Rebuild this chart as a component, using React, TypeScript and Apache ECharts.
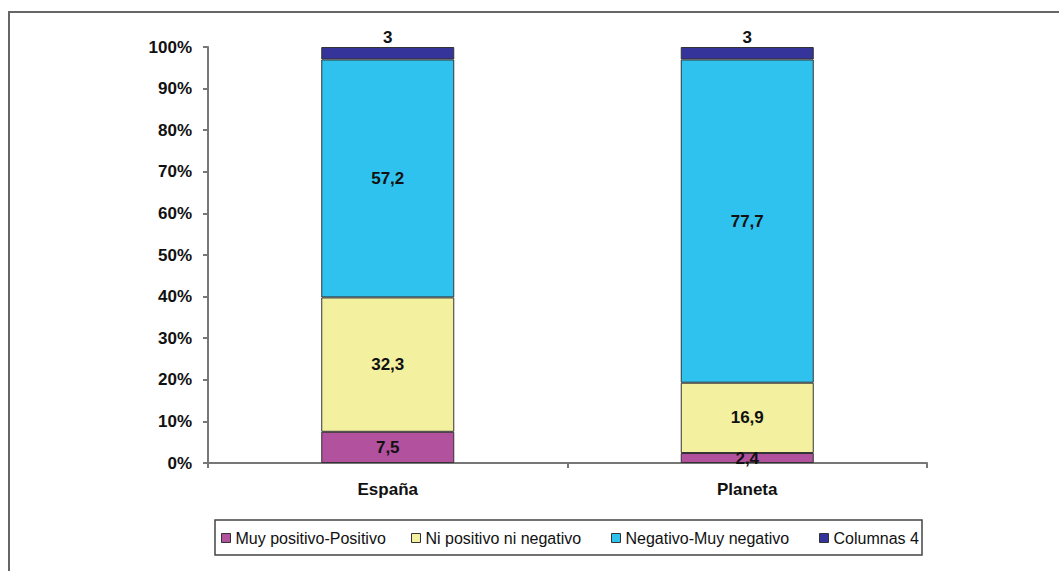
import React, { useEffect, useRef } from "react";
import * as echarts from "echarts";

const categories = ["España", "Planeta"];
const seriesNames = [
  "Muy positivo-Positivo",
  "Ni positivo ni negativo",
  "Negativo-Muy negativo",
  "Columnas 4",
];
const muyPositivo = [7.5, 2.4];
const niPositivo = [32.3, 16.9];
const negativo = [57.2, 77.7];
const columnas4 = [3, 3];
const yTicks = [0, 10, 20, 30, 40, 50, 60, 70, 80, 90, 100];

const colors = ["#b2529f", "#f3f0a0", "#2fc2ee", "#34349b"];
const legendLefts = [221, 411, 611, 819];
const FONT = 'Arial, "Liberation Sans", sans-serif';

export default function App() {
  const ref = useRef<HTMLDivElement>(null);
  useEffect(() => {
    if (!ref.current) return;
    const chart = echarts.init(ref.current, null, { renderer: "svg" });
    const seriesData = [muyPositivo, niPositivo, negativo, columnas4];
    const fmt = (p: any) => String(p.value).replace(".", ",");
    chart.setOption({
      animation: false,
      backgroundColor: "#ffffff",
      textStyle: { fontFamily: FONT },
      grid: { left: 208, right: 132, top: 47, bottom: 108, containLabel: false },
      xAxis: {
        type: "category",
        data: categories,
        axisLine: { lineStyle: { color: "#777", width: 2 } },
        axisTick: { show: true, length: 5, lineStyle: { color: "#777", width: 2 } },
        axisLabel: {
          color: "#111",
          fontWeight: "bold",
          fontSize: 17,
          fontFamily: FONT,
          margin: 18,
        },
      },
      yAxis: {
        type: "value",
        min: 0,
        max: 100,
        interval: 10,
        axisLine: { show: true, lineStyle: { color: "#777", width: 2 } },
        axisTick: { show: true, length: 5, lineStyle: { color: "#777", width: 2 } },
        splitLine: { show: false },
        axisLabel: {
          color: "#111",
          fontWeight: "bold",
          fontSize: 17,
          fontFamily: FONT,
          margin: 16,
          formatter: (v: number) => (yTicks.includes(v) ? v + "%" : ""),
        },
      },
      legend: seriesNames.map((n, i) => ({
        data: [n],
        left: legendLefts[i],
        top: 529,
        padding: 0,
        itemWidth: 9,
        itemHeight: 9,
        icon: "rect",
        itemGap: 5,
        textStyle: { color: "#111", fontSize: 16, fontFamily: FONT, lineHeight: 18 },
        itemStyle: { borderColor: "#333", borderWidth: 1 },
      })),
      graphic: [
        {
          type: "rect",
          shape: { x: 9, y: 12, width: 1100, height: 700 },
          style: { fill: "none", stroke: "#666", lineWidth: 2 },
          silent: true,
        },
        {
          type: "rect",
          shape: { x: 215, y: 520, width: 707, height: 35 },
          style: { fill: "none", stroke: "#444", lineWidth: 1.5 },
          silent: true,
        },
      ],
      series: seriesNames.map((n, i) => ({
        name: n,
        type: "bar",
        stack: "total",
        data: seriesData[i],
        barWidth: 133,
        itemStyle: { color: colors[i], borderColor: "#333", borderWidth: 1 },
        label: {
          show: true,
          position: i === 3 ? "top" : "inside",
          distance: 1,
          color: "#111",
          fontWeight: "bold",
          fontSize: 17,
          fontFamily: FONT,
          formatter: fmt,
        },
      })),
    });
    return () => chart.dispose();
  }, []);
  return (
    <div
      ref={ref}
      style={{ position: "absolute", left: 0, top: 0, width: 1059, height: 571 }}
    />
  );
}
